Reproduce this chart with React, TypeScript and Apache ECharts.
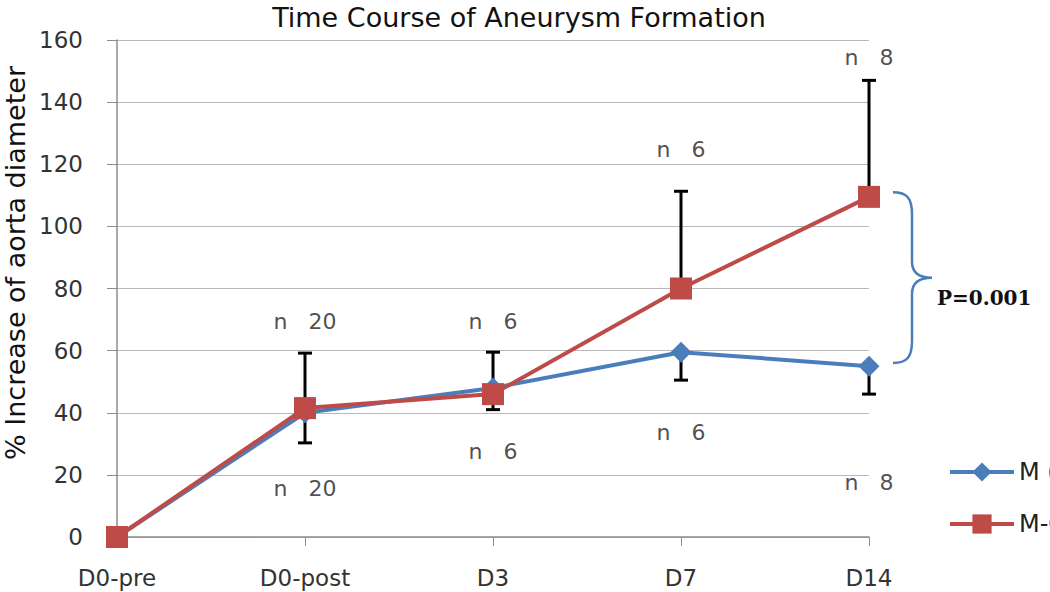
import React, { useEffect, useRef } from "react";
import * as echarts from "echarts";

const categories = ["D0-pre", "D0-post", "D3", "D7", "D14"];
const seriesNames = ["M (Vehicle)", "M-CSF"];
const blueValues = [0, 40, 48, 59.5, 55];
const redValues = [0, 41.5, 46, 80, 109.5];
// [category index, from (point), to (bar end)]
const redErrorBars = [
  [1, 41.5, 59.2],
  [2, 46, 59.5],
  [3, 80, 111.3],
  [4, 109.5, 147],
];
const blueErrorBars = [
  [1, 40, 30.3],
  [2, 48, 41],
  [3, 59.5, 50.5],
  [4, 55, 46],
];
// [category index, y position, text]
const nLabels = [
  [1, 69.5, "n   20"],
  [1, 15.5, "n   20"],
  [2, 69.5, "n   6"],
  [2, 27.4, "n   6"],
  [3, 124.6, "n   6"],
  [3, 33.5, "n   6"],
  [4, 154.5, "n   8"],
  [4, 17.7, "n   8"],
];
// brace at D14 spanning from low to high value
const braceData = [[4, 56, 111]];
const pText = "P=0.001";
const yTicks = { min: 0, max: 160, interval: 20 };
const titleText = "Time Course of Aneurysm Formation";
const yName = "% Increase of aorta diameter";

const BLUE = "#4A7EBB";
const RED = "#BE4B48";
const FONT = "DejaVu Sans";

export default function App() {
  const ref = useRef<HTMLDivElement>(null);
  useEffect(() => {
    if (!ref.current) return;
    const chart = echarts.init(ref.current, null, { renderer: "svg" });
    const errRender = (params: any, api: any) => {
      const x = api.value(0);
      const p1 = api.coord([x, api.value(1)]);
      const p2 = api.coord([x, api.value(2)]);
      const cap = 7;
      const st = { stroke: "#000", lineWidth: 3 };
      return {
        type: "group",
        children: [
          { type: "line", shape: { x1: p1[0], y1: p1[1], x2: p2[0], y2: p2[1] }, style: st },
          { type: "line", shape: { x1: p2[0] - cap, y1: p2[1], x2: p2[0] + cap, y2: p2[1] }, style: st },
        ],
      };
    };
    chart.setOption({
      animation: false,
      title: {
        text: titleText,
        left: 514,
        textAlign: "center",
        top: -1,
        textStyle: { fontFamily: FONT, fontSize: 27, fontWeight: "normal", color: "#111" },
      },
      graphic: [
        {
          type: "text",
          x: 15,
          y: 263,
          rotation: Math.PI / 2,
          style: {
            text: yName,
            fontFamily: FONT,
            fontSize: 27,
            fill: "#111",
            align: "center",
            verticalAlign: "middle",
          },
        },
      ],
      legend: {
        orient: "vertical",
        left: 943,
        top: 455,
        itemGap: 28,
        itemWidth: 64,
        itemHeight: 24,
        data: seriesNames,
        lineStyle: { width: 4 },
        textStyle: { fontFamily: FONT, fontSize: 24, color: "#222" },
      },
      grid: { left: 117, right: 181, top: 40, bottom: 55 },
      xAxis: {
        type: "category",
        data: categories,
        boundaryGap: false,
        axisLine: { lineStyle: { color: "#8c8c8c", width: 1.5 } },
        axisTick: { show: true, length: 9, lineStyle: { color: "#8c8c8c" } },
        axisLabel: { fontFamily: FONT, fontSize: 23, color: "#333", margin: 29 },
      },
      yAxis: {
        type: "value",
        min: yTicks.min,
        max: yTicks.max,
        interval: yTicks.interval,
        axisLine: { show: true, lineStyle: { color: "#8c8c8c", width: 1.5 } },
        axisTick: { show: true, length: 10, lineStyle: { color: "#8c8c8c" } },
        splitLine: { lineStyle: { color: "#b8b8b8", width: 1.2 } },
        axisLabel: { fontFamily: FONT, fontSize: 23, color: "#333", margin: 34 },
      },
      series: [
        {
          type: "custom",
          z: 1,
          silent: true,
          renderItem: errRender,
          data: redErrorBars,
          encode: { x: 0, y: [1, 2] },
        },
        {
          type: "custom",
          z: 1,
          silent: true,
          renderItem: errRender,
          data: blueErrorBars,
          encode: { x: 0, y: [1, 2] },
        },
        {
          name: seriesNames[0],
          type: "line",
          data: blueValues,
          z: 3,
          symbol: "diamond",
          symbolSize: 21,
          itemStyle: { color: BLUE },
          lineStyle: { color: BLUE, width: 4 },
        },
        {
          name: seriesNames[1],
          type: "line",
          data: redValues,
          z: 4,
          symbol: "rect",
          symbolSize: 22,
          itemStyle: { color: RED },
          lineStyle: { color: RED, width: 4 },
        },
        {
          type: "scatter",
          symbolSize: 0,
          silent: true,
          data: nLabels.map((d) => ({ value: [d[0], d[1]], name: d[2] })),
          label: {
            show: true,
            position: "inside",
            formatter: (p: any) => p.name,
            fontFamily: FONT,
            fontSize: 22,
            color: "#222",
          },
        },
        {
          type: "custom",
          silent: true,
          data: braceData,
          encode: { x: 0, y: [1, 2] },
          renderItem: (params: any, api: any) => {
            const i = api.value(0);
            const top = api.coord([i, api.value(2)]);
            const bot = api.coord([i, api.value(1)]);
            const x0 = top[0] + 24;
            const x1 = x0 + 19;
            const xt = x0 + 39;
            const ty = top[1];
            const by = bot[1];
            const mid = (ty + by) / 2;
            const d =
              `M${x0} ${ty} C${x0 + 14} ${ty} ${x1} ${ty + 6} ${x1} ${ty + 22} ` +
              `L${x1} ${mid - 16} C${x1} ${mid - 4} ${x1 + 9} ${mid} ${xt} ${mid} ` +
              `C${x1 + 9} ${mid} ${x1} ${mid + 4} ${x1} ${mid + 16} ` +
              `L${x1} ${by - 22} C${x1} ${by - 6} ${x0 + 14} ${by} ${x0} ${by}`;
            return {
              type: "group",
              children: [
                {
                  type: "path",
                  shape: { pathData: d },
                  style: { fill: "none", stroke: BLUE, lineWidth: 2.5 },
                },
                {
                  type: "text",
                  x: xt + 5,
                  y: mid + 20,
                  style: {
                    text: pText,
                    fontFamily: "DejaVu Serif",
                    fontSize: 20,
                    fontWeight: "bold",
                    fill: "#111",
                    verticalAlign: "middle",
                    align: "left",
                  },
                },
              ],
            };
          },
        },
      ],
    });
    return () => chart.dispose();
  }, []);
  return (
    <div
      ref={ref}
      style={{ position: "absolute", left: 0, top: 0, width: 1050, height: 592, background: "#fff" }}
    />
  );
}
